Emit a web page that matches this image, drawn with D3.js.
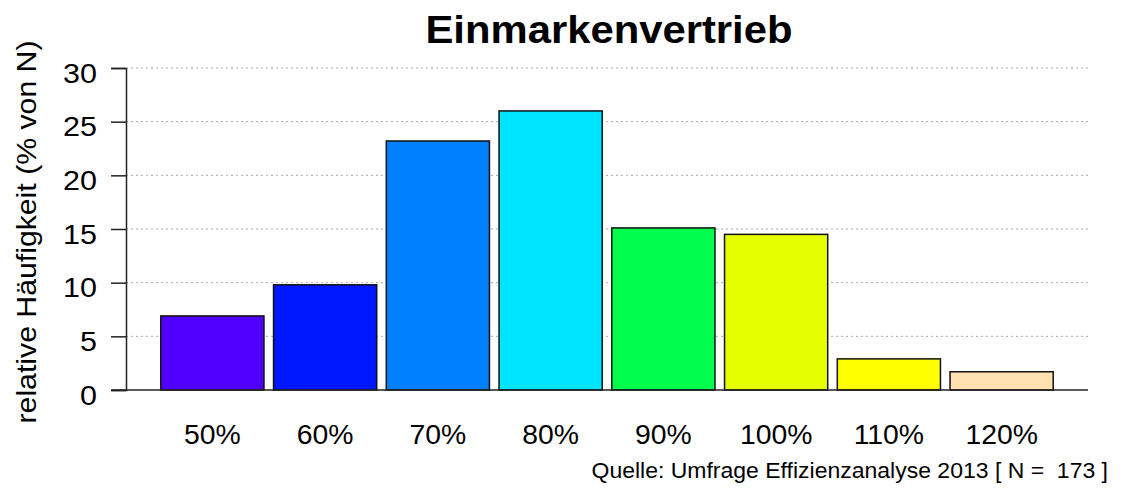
<!DOCTYPE html>
<html>
<head>
<meta charset="utf-8">
<script src="https://cdn.jsdelivr.net/npm/d3@7"></script>
<style>
  body { margin: 0; background: #fff; }
  text { font-family: "Liberation Sans", Arial, sans-serif; fill: #000; }
</style>
</head>
<body>
<div id="chart"></div>
<script>
// data
var categories = ["50%", "60%", "70%", "80%", "90%", "100%", "110%", "120%"];
var values = [6.9, 9.8, 23.2, 26.0, 15.1, 14.5, 2.9, 1.7];
var barColors = ["#5000ff", "#0018ff", "#0080ff", "#00e5ff", "#00ff4d", "#e6ff00", "#ffff00", "#ffe0b0"];
var yTicks = [0, 5, 10, 15, 20, 25, 30];

var width = 1130, height = 489;

var svg = d3.select("#chart").append("svg")
    .attr("width", width)
    .attr("height", height);

var x = d3.scaleBand()
    .domain(categories)
    .range([156, 1058])
    .paddingInner(0.085)
    .paddingOuter(0.0425);

var y = d3.scaleLinear()
    .domain([0, 30])
    .range([390, 68]);

// text slightly stretched wide, like the original
function label(px, py, str, size, stretch, anchor, rot) {
    return svg.append("text")
        .attr("transform", "translate(" + px + "," + py + ")" + (rot ? " rotate(" + rot + ")" : "") + " scale(" + stretch + ",1)")
        .attr("text-anchor", anchor)
        .style("font-size", size + "px")
        .style("white-space", "pre")
        .text(str);
}

// grid lines
svg.append("g")
    .selectAll("line")
    .data(yTicks.filter(function (d) { return d > 0; }))
    .enter().append("line")
    .attr("x1", 126)
    .attr("x2", 1088)
    .attr("y1", function (d) { return y(d); })
    .attr("y2", function (d) { return y(d); })
    .attr("stroke", "#aaa")
    .attr("stroke-width", 1)
    .attr("stroke-dasharray", "2,3");

// bars
svg.append("g")
    .selectAll("rect")
    .data(values)
    .enter().append("rect")
    .attr("x", function (d, i) { return x(categories[i]); })
    .attr("width", x.bandwidth())
    .attr("y", function (d) { return y(d); })
    .attr("height", function (d) { return y(0) - y(d); })
    .attr("fill", function (d, i) { return barColors[i]; })
    .attr("stroke", "#111")
    .attr("stroke-width", 1.5);

// y axis
var yAxis = svg.append("g")
    .attr("transform", "translate(126,0)")
    .call(d3.axisLeft(y).tickValues(yTicks).tickSize(15).tickPadding(13));
yAxis.select(".domain").attr("stroke", "#222").attr("stroke-width", 1.5);
yAxis.selectAll(".tick line").attr("stroke", "#222").attr("stroke-width", 1.5);
yAxis.selectAll(".tick text")
    .style("font-family", "'Liberation Sans', Arial, sans-serif")
    .style("font-size", "28px")
    .attr("fill", "#000")
    .attr("x", null)
    .attr("dy", null)
    .attr("transform", "translate(-29,14) scale(1.09,1)");

// bottom baseline
svg.append("line")
    .attr("x1", 111)
    .attr("x2", 1088)
    .attr("y1", y(0))
    .attr("y2", y(0))
    .attr("stroke", "#222")
    .attr("stroke-width", 1.5);

// x labels
categories.forEach(function (c) {
    label(x(c) + x.bandwidth() / 2, 444, c, 27, 1.05, "middle");
});

// title
label(609, 43, "Einmarkenvertrieb", 38, 1.1, "middle").style("font-weight", "bold");

// y label
label(36, 232, "relative Häufigkeit (% von N)", 28, 1.08, "middle", -90);

// source
label(1108, 478, "Quelle: Umfrage Effizienzanalyse 2013 [ N =  173 ]", 22, 1.045, "end");
</script>
</body>
</html>
